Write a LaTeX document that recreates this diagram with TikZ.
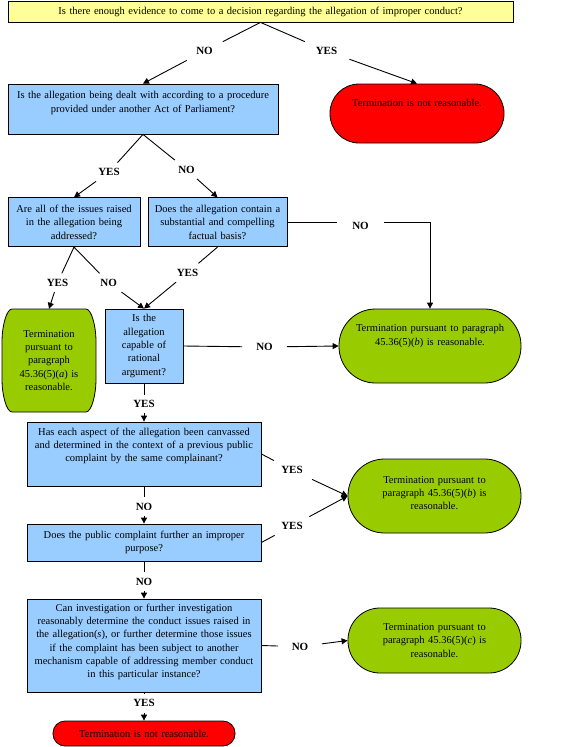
\documentclass[tikz,border=0pt]{standalone}
\usepackage{fontspec}
\setmainfont{Liberation Serif}
\usetikzlibrary{arrows.meta,backgrounds}
\definecolor{qyellow}{HTML}{FFFF99}
\definecolor{qblue}{HTML}{99CCFF}
\definecolor{tred}{HTML}{FF0000}
\definecolor{tgreen}{HTML}{99CC00}
\begin{document}
\begin{tikzpicture}[x=1pt,y=-1pt,
  txt/.style={font=\fontsize{10.5}{13.3}\selectfont, align=center, inner sep=0pt},
  qbox/.style={txt, rectangle, draw=black, line width=0.8pt, fill=qblue},
  pill/.style={txt, rectangle, draw=black, line width=0.8pt, rounded corners=#1},
  lbl/.style={font=\fontsize{11}{13}\selectfont\bfseries, inner xsep=12pt, inner ysep=5.5pt},
  conn/.style={line width=0.9pt, draw=black},
  arr/.style={conn, -{Triangle[length=6pt,width=6pt]}},
]
\begin{scope}[on background layer]
\fill[white] (0,0) rectangle (563,747);
\end{scope}
\useasboundingbox (0,0) rectangle (563,747);

% question boxes and terminators
\node[qbox, fill=qyellow, minimum width=505pt, minimum height=21pt, text width=500pt] (q1) at (260.5,11.5) {Is there enough evidence to come to a decision regarding the allegation of improper conduct?};
\node[qbox, minimum width=270pt, minimum height=50pt, text width=262pt, text depth=27.6pt] (q2) at (143,109) {Is the allegation being dealt with according to a procedure\\provided under another Act of Parliament?};
\node[pill=29pt, fill=tred, minimum width=174pt, minimum height=59pt, text width=160pt, text depth=21pt] (r1) at (417,113.5) {Termination is not reasonable.};
\node[qbox, minimum width=132pt, minimum height=49pt, text width=126pt] (q3) at (74,222.2) {Are all of the issues raised\\in the allegation being\\addressed?};
\node[qbox, minimum width=139pt, minimum height=49pt, text width=133pt] (q4) at (217.5,222.2) {Does the allegation contain a\\substantial and compelling\\factual basis?};
\node[txt, minimum width=94pt, minimum height=103pt, text width=88pt] (g1) at (49,360.5) {Termination\\pursuant to\\paragraph\\45.36(5)(\textit{a}) is\\reasonable.};
\node[qbox, minimum width=78pt, minimum height=74pt, text width=72pt] (q5) at (144,346) {Is the\\allegation\\capable of\\rational\\argument?};
\node[pill=36.5pt, fill=tgreen, minimum width=182pt, minimum height=74pt, text width=170pt, text depth=35.6pt] (g2) at (430,346) {Termination pursuant to paragraph\\45.36(5)(\textit{b}) is reasonable.};
\node[qbox, minimum width=234pt, minimum height=64pt, text width=228pt, text depth=44.9pt] (q6) at (144,454) {Has each aspect of the allegation been canvassed\\and determined in the context of a previous public\\complaint by the same complainant?};
\node[pill=36.5pt, fill=tgreen, minimum width=173pt, minimum height=74pt, text width=160pt, text depth=32.6pt] (g3) at (434.5,496) {Termination pursuant to\\paragraph 45.36(5)(\textit{b}) is\\reasonable.};
\node[qbox, minimum width=234pt, minimum height=37pt, text width=228pt] (q7) at (144,542.5) {Does the public complaint further an improper\\purpose?};
\node[qbox, minimum width=234pt, minimum height=93pt, text width=228pt, text depth=75.8pt] (q8) at (144,645.5) {Can investigation or further investigation\\reasonably determine the conduct issues raised in\\the allegation(\textit{s}), or further determine those issues\\if the complaint has been subject to another\\mechanism capable of addressing member conduct\\in this particular instance?};
\node[pill=32pt, fill=tgreen, minimum width=173pt, minimum height=65pt, text width=160pt] (g4) at (434.5,640.5) {Termination pursuant to\\paragraph 45.36(5)(\textit{c}) is\\reasonable.};
\node[pill=12pt, fill=tred, minimum width=182pt, minimum height=25pt, text width=160pt] (r2) at (144,733.5) {Termination is not reasonable.};

% outline of the tall terminator (elliptical corners)
\begin{scope}[on background layer]
\draw[line width=0.8pt, fill=tgreen] (12,309) -- (86,309)
  .. controls (91.5,309) and (96,326.3) .. (96,341) -- (96,380)
  .. controls (96,394.7) and (91.5,412) .. (86,412) -- (12,412)
  .. controls (6.5,412) and (2,394.7) .. (2,380) -- (2,341)
  .. controls (2,326.3) and (6.5,309) .. cycle;
\end{scope}

% labels
\node[lbl] (n1) at (204.5,51) {NO};
\node[lbl] (y1) at (326.5,51) {YES};
\node[lbl] (y2) at (109,172) {YES};
\node[lbl] (n2) at (186.5,169.5) {NO};
\node[lbl, inner xsep=15pt] (n3) at (360.5,225.7) {NO};
\node[lbl] (y3) at (57.5,282.7) {YES};
\node[lbl] (n4) at (108.7,282.7) {NO};
\node[lbl] (y4) at (187.5,272.7) {YES};
\node[lbl, inner xsep=14pt] (n5) at (264.5,347) {NO};
\node[lbl] (y5) at (144,404) {YES};
\node[lbl] (y6) at (292,470) {YES};
\node[lbl] (n6) at (144,506.7) {NO};
\node[lbl] (y7) at (292,526) {YES};
\node[lbl] (n7) at (144,581.7) {NO};
\node[lbl, inner xsep=13.5pt] (n8) at (300,646.7) {NO};
\node[lbl] (y8) at (144,703.3) {YES};

% connectors
\draw[conn] (q1.south) -- (n1);  \draw[arr] (n1) -- (q2.north);
\draw[conn] (q1.south) -- (y1);  \draw[arr] (y1) -- (r1.north);
\draw[conn] (q2.south) -- (y2);  \draw[arr] (y2) -- (q3.north);
\draw[conn] (q2.south) -- (n2);  \draw[arr] (n2) -- (q4.north);
\draw[conn] (q4.east) -- (n3.west |- q4.east);
\draw[arr] (n3.east |- q4.east) -| (g2.north);
\draw[conn] (q3.south) -- (y3);  \draw[arr] (y3) -- (g1.north);
\draw[conn] (q3.south) -- (n4);  \draw[arr] (n4) -- (q5.north);
\draw[conn] (q4.south) -- (y4);  \draw[arr] (y4) -- (q5.north);
\draw[conn] (q5.east) -- (n5);   \draw[arr] (n5) -- (g2.west);
\draw[conn] (q5.south) -- (y5);  \draw[arr] (y5) -- (q6.north);
\draw[conn] (q6.east) -- (y6);   \draw[arr] (y6) -- (g3.west);
\draw[conn] (q6.south) -- (n6);  \draw[arr] (n6) -- (q7.north);
\draw[conn] (q7.east) -- (y7);   \draw[arr] (y7) -- (g3.west);
\draw[conn] (q7.south) -- (n7);  \draw[arr] (n7) -- (q8.north);
\draw[conn] (q8.east) -- (n8);   \draw[arr] (n8) -- (g4.west);
\draw[conn] (q8.south) -- (y8);  \draw[arr] (y8) -- (r2.north);
\end{tikzpicture}
\end{document}
